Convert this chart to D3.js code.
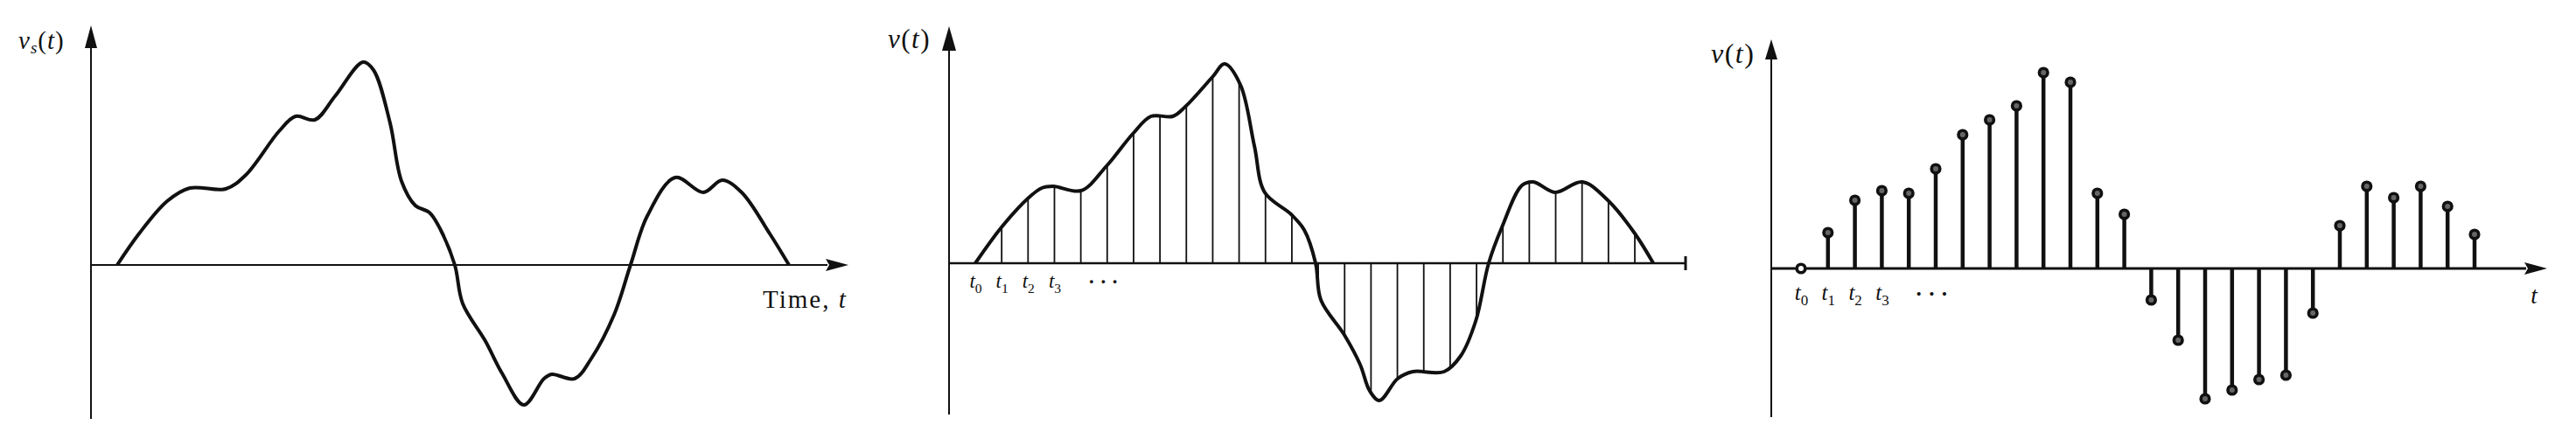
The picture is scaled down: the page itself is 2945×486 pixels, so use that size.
<!DOCTYPE html>
<html><head><meta charset="utf-8">
<script src="https://cdn.jsdelivr.net/npm/d3@7"></script>
<style>
html,body{margin:0;padding:0;background:#fff;}
svg{display:block;}
text{font-family:"Liberation Serif","DejaVu Serif",serif;fill:#111;}
</style>
</head><body>
<svg id="c" width="2945" height="486"></svg>
<script>
// ---------- DATA (time in sample periods, value in arbitrary volts) ----------
// Panel 1: continuous signal v_s(t)
const signalT = [0, 0.84, 1.91, 2.78, 4.15, 4.92, 6.19, 6.82, 7.56, 8.33, 9.40, 9.80, 10.43, 10.87, 11.40, 11.94, 12.37, 12.91, 13.21, 14.08, 14.72, 15.55, 16.32, 16.62, 17.49, 18.13, 19.00, 19.63, 20.27, 21.34, 22.41, 23.14, 23.88, 24.95, 25.69];
const signalV = [0, 0.36, 0.73, 0.88, 0.87, 1.03, 1.53, 1.70, 1.66, 1.93, 2.32, 2.23, 1.63, 0.96, 0.68, 0.60, 0.40, 0, -0.44, -0.87, -1.24, -1.60, -1.30, -1.25, -1.30, -1.07, -0.57, 0, 0.56, 1.00, 0.83, 0.97, 0.83, 0.36, 0];
// Panel 2: same signal redrawn with sampling instants
const curve2T = [0, 0.99, 1.99, 2.52, 2.95, 4.01, 4.97, 5.97, 6.66, 7.49, 7.96, 8.99, 9.45, 10.05, 10.58, 10.97, 11.97, 12.47, 12.90, 13.10, 13.99, 14.59, 14.95, 15.32, 16.01, 16.58, 17.77, 18.40, 18.97, 19.46, 19.96, 20.72, 21.15, 21.98, 23.01, 24.01, 25.00, 25.70];
const curve2V = [0, 0.41, 0.74, 0.86, 0.88, 0.83, 1.11, 1.48, 1.68, 1.68, 1.79, 2.13, 2.28, 2.04, 1.34, 0.81, 0.56, 0.38, 0, -0.42, -0.82, -1.16, -1.46, -1.57, -1.32, -1.24, -1.24, -1.06, -0.66, 0, 0.41, 0.89, 0.93, 0.81, 0.93, 0.71, 0.34, 0];
// Sampling instants t0, t1, ... t25
const sampleTimes = [0, 1, 2, 3, 4, 5, 6, 7, 8, 9, 10, 11, 12, 13, 14, 15, 16, 17, 18, 19, 20, 21, 22, 23, 24, 25];
// Panel 3: sampled values v(t_k)
const sampleValues = [0, 0.41, 0.78, 0.89, 0.86, 1.14, 1.53, 1.70, 1.86, 2.24, 2.13, 0.86, 0.62, -0.36, -0.82, -1.49, -1.39, -1.27, -1.22, -0.51, 0.49, 0.94, 0.81, 0.94, 0.71, 0.39];
// Tick labels (subscripts of t)
const tickValues = [0, 1, 2, 3];
const tickSubs = ["0", "1", "2", "3"];

// ---------- LAYOUT ----------
const svg = d3.select("#c");
const ink = "#111";
const P = [
  {yAxisX:104, axisY:303, x0:134, x1:902, tEnd:25.69, top:52, bottom:479, tip:29, xEnd:970},
  {yAxisX:1085, axisY:301, x0:1115, x1:1869, tEnd:25, top:55, bottom:474, tip:30, xEnd:1927},
  {yAxisX:2025, axisY:307, x0:2059, x1:2829, tEnd:25, top:66, bottom:477, tip:45, xEnd:2912}
];
const pxPerUnit = 100;
function yScale(p){ return d3.scaleLinear().domain([-2, 2.5]).range([p.axisY + 2*pxPerUnit, p.axisY - 2.5*pxPerUnit]); }
function xScale(p){ return d3.scaleLinear().domain([0, p.tEnd]).range([p.x0, p.x1]); }

function drawYAxis(p, hw, len){
  svg.append("line").attr("x1",p.yAxisX).attr("x2",p.yAxisX).attr("y1",p.tip+len-2).attr("y2",p.bottom)
    .attr("stroke",ink).attr("stroke-width",2);
  svg.append("path").attr("d",`M${p.yAxisX},${p.tip} L${p.yAxisX+hw},${p.tip+len} L${p.yAxisX-hw},${p.tip+len} Z`).attr("fill",ink);
}
function drawXAxis(p, sw, arrow){
  const endLine = arrow ? p.xEnd - 24 : p.xEnd;
  svg.append("line").attr("x1",p.yAxisX).attr("x2",endLine).attr("y1",p.axisY).attr("y2",p.axisY)
    .attr("stroke",ink).attr("stroke-width",sw);
  if(arrow){
    svg.append("path").attr("d",`M${p.xEnd},${p.axisY} L${p.xEnd-26},${p.axisY-7} L${p.xEnd-22},${p.axisY} L${p.xEnd-26},${p.axisY+7} Z`).attr("fill",ink);
  } else {
    svg.append("line").attr("x1",p.xEnd).attr("x2",p.xEnd).attr("y1",p.axisY-8).attr("y2",p.axisY+8)
      .attr("stroke",ink).attr("stroke-width",3);
  }
}
function tickAxis(p, x, fs, dy){
  const g = svg.append("g").attr("transform",`translate(0,${p.axisY + dy})`)
    .call(d3.axisBottom(x).tickValues(tickValues).tickSize(0).tickPadding(0).tickFormat(""));
  g.select(".domain").remove();
  g.selectAll(".tick text").attr("font-family",'"Liberation Serif",serif').attr("fill",ink).attr("font-size",fs)
    .attr("dy",0).each(function(d,i){
      const t = d3.select(this);
      t.append("tspan").attr("font-style","italic").text("t");
      t.append("tspan").attr("font-size",fs*0.68).attr("dy",fs*0.25).text(tickSubs[i]);
    });
  svg.append("text").attr("x",x(4.85)).attr("y",p.axisY + dy + fs*0.05).attr("text-anchor","middle")
    .attr("font-size",fs).attr("font-weight","bold").text("·  ·  ·");
}
const line = (x,y) => d3.line().x(d=>x(d[0])).y(d=>y(d[1])).curve(d3.curveCatmullRom.alpha(0.5));

// ---------- PANEL 1 ----------
{
  const p = P[0], x = xScale(p), y = yScale(p);
  drawYAxis(p, 7, 26);
  drawXAxis(p, 2, true);
  svg.append("path").datum(d3.zip(signalT, signalV)).attr("d", line(x,y))
    .attr("fill","none").attr("stroke",ink).attr("stroke-width",4).attr("stroke-linejoin","round");
  const lab = svg.append("text").attr("x",21).attr("y",56).attr("font-size",29).attr("letter-spacing",1);
  lab.append("tspan").attr("font-style","italic").text("v");
  lab.append("tspan").attr("font-style","italic").attr("font-size",19).attr("dy",5).text("s");
  lab.append("tspan").attr("dy",-5).text("(");
  lab.append("tspan").attr("font-style","italic").text("t");
  lab.append("tspan").text(")");
  const tl = svg.append("text").attr("x",872).attr("y",352).attr("font-size",29).attr("letter-spacing",2);
  tl.append("tspan").text("Time, ");
  tl.append("tspan").attr("font-style","italic").text("t");
}

// ---------- PANEL 2 ----------
{
  const p = P[1], x = xScale(p), y = yScale(p);
  const pts = d3.zip(curve2T, curve2V);
  const area = d3.area().x(d=>x(d[0])).y0(y(0)).y1(d=>y(d[1])).curve(d3.curveCatmullRom.alpha(0.5));
  svg.append("clipPath").attr("id","under2").append("path").datum(pts).attr("d", area);
  svg.append("g").attr("clip-path","url(#under2)").selectAll("line").data(sampleTimes).join("line")
    .attr("x1",d=>x(d)).attr("x2",d=>x(d)).attr("y1",y(-2)).attr("y2",y(2.5))
    .attr("stroke",ink).attr("stroke-width",1.8);
  drawYAxis(p, 8, 28);
  drawXAxis(p, 2.5, false);
  svg.append("path").datum(pts).attr("d", line(x,y))
    .attr("fill","none").attr("stroke",ink).attr("stroke-width",4).attr("stroke-linejoin","round");
  const lab = svg.append("text").attr("x",1015).attr("y",55).attr("font-size",31).attr("letter-spacing",1.5);
  lab.append("tspan").attr("font-style","italic").text("v");
  lab.append("tspan").text("(");
  lab.append("tspan").attr("font-style","italic").text("t");
  lab.append("tspan").text(")");
  tickAxis(p, x, 23, 28);
}

// ---------- PANEL 3 ----------
{
  const p = P[2], x = xScale(p), y = yScale(p);
  drawYAxis(p, 7, 23);
  drawXAxis(p, 3, true);
  const data = d3.zip(sampleTimes, sampleValues);
  svg.append("g").selectAll("line").data(data).join("line")
    .attr("x1",d=>x(d[0])).attr("x2",d=>x(d[0])).attr("y1",y(0)).attr("y2",d=>y(d[1]))
    .attr("stroke",ink).attr("stroke-width",4.5);
  svg.append("g").selectAll("circle").data(data).join("circle")
    .attr("cx",d=>x(d[0])).attr("cy",d=>y(d[1])).attr("r",4.8)
    .attr("fill",(d,i)=> i===0 ? "#fff" : "#666").attr("stroke",ink).attr("stroke-width",3.6);
  const lab = svg.append("text").attr("x",1956).attr("y",72).attr("font-size",32).attr("letter-spacing",1.5);
  lab.append("tspan").attr("font-style","italic").text("v");
  lab.append("tspan").text("(");
  lab.append("tspan").attr("font-style","italic").text("t");
  lab.append("tspan").text(")");
  tickAxis(p, x, 25, 36);
  svg.append("text").attr("x",2897).attr("y",347).attr("text-anchor","middle").attr("font-size",27)
    .attr("font-style","italic").text("t");
}
</script>
</body></html>
